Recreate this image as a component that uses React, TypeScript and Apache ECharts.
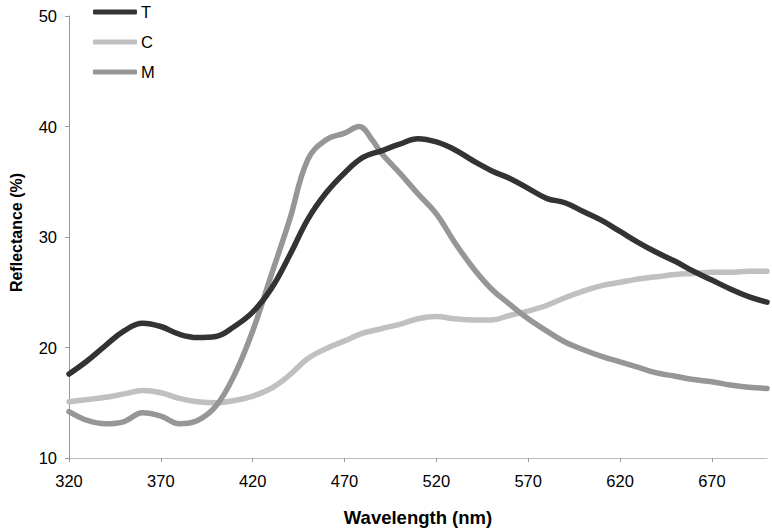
import React, { useEffect, useRef } from "react";
import * as echarts from "echarts";

const wavelengths = [
  320, 330, 340, 350, 360, 370, 380, 390, 400, 410, 420, 430, 440, 450, 460, 470, 480, 490,
  500, 510, 520, 530, 540, 550, 560, 570, 580, 590, 600, 610, 620, 630, 640, 650, 660, 670,
  680, 690, 700,
];

const tValues = [
  17.6, 18.8, 20.2, 21.5, 22.2, 21.9, 21.2, 20.9, 21.0, 21.9, 23.2, 25.3, 28.3, 31.6, 34.0,
  35.8, 37.2, 37.8, 38.4, 38.9, 38.6, 37.9, 36.9, 36.0, 35.3, 34.4, 33.5, 33.1, 32.3, 31.5,
  30.5, 29.5, 28.6, 27.8, 26.9, 26.1, 25.3, 24.6, 24.1,
];

const cValues = [
  15.1, 15.3, 15.5, 15.8, 16.1, 15.9, 15.4, 15.1, 15.0, 15.2, 15.6, 16.3, 17.5, 19.0, 19.9,
  20.6, 21.3, 21.7, 22.1, 22.6, 22.8, 22.6, 22.5, 22.5, 22.9, 23.3, 23.8, 24.5, 25.1, 25.6,
  25.9, 26.2, 26.4, 26.6, 26.7, 26.8, 26.8, 26.9, 26.9,
];

const mWavelengths = [
  320, 330, 340, 350, 360, 370, 380, 390, 400, 410, 420, 430, 440, 450, 460, 470, 478, 485,
  490, 500, 510, 520, 530, 540, 550, 560, 570, 580, 590, 600, 610, 620, 630, 640, 650, 660,
  670, 680, 690, 700,
];

const mValues = [
  14.2, 13.4, 13.1, 13.3, 14.1, 13.8, 13.1, 13.4, 14.7, 17.5, 21.5, 26.5, 31.5, 37.0, 38.8,
  39.4, 40.0, 38.8, 37.6, 35.8, 33.9, 32.1, 29.5, 27.2, 25.3, 23.9, 22.6, 21.5, 20.5, 19.8,
  19.2, 18.7, 18.2, 17.7, 17.4, 17.1, 16.9, 16.6, 16.4, 16.3,
];

const xTicks = [320, 370, 420, 470, 520, 570, 620, 670];

const FONT = "'Liberation Sans', Arial, sans-serif";

export default function App() {
  const ref = useRef<HTMLDivElement>(null);
  useEffect(() => {
    if (!ref.current) return;
    const chart = echarts.init(ref.current, null, { renderer: "svg" });
    const pair = (xs: number[], ys: number[]) => xs.map((x, i) => [x, ys[i]]);
    chart.setOption({
      animation: false,
      textStyle: { fontFamily: FONT },
      grid: { left: 65, right: 5, top: 16, bottom: 73, containLabel: false },
      legend: {
        orient: "vertical",
        left: 93,
        top: 3,
        padding: 0,
        itemWidth: 44,
        itemHeight: 5,
        itemGap: 12,
        icon: "roundRect",
        textStyle: { fontSize: 16.5, color: "#000", fontFamily: FONT, padding: [0, 0, 0, -1], lineHeight: 18 },
        data: ["T", "C", "M"],
      },
      xAxis: {
        type: "value",
        min: 320,
        max: 700,
        interval: 50,
        name: "Wavelength (nm)",
        nameLocation: "middle",
        nameGap: 50,
        nameTextStyle: { fontSize: 18.5, fontWeight: "bold", color: "#000", fontFamily: FONT },
        axisLine: { show: true, lineStyle: { color: "#bdbdbd", width: 1 } },
        axisTick: { show: true, length: 4, lineStyle: { color: "#999" }, customValues: xTicks },
        axisLabel: { fontSize: 16.5, color: "#000", margin: 14, customValues: xTicks },
        splitLine: { show: false },
      },
      yAxis: {
        type: "value",
        min: 10,
        max: 50,
        interval: 10,
        name: "Reflectance (%)",
        nameLocation: "middle",
        nameGap: 45,
        nameTextStyle: { fontSize: 16, fontWeight: "bold", color: "#000", fontFamily: FONT, padding: [0, 0, 0, 9] },
        axisLine: { show: true, lineStyle: { color: "#999", width: 1 } },
        axisTick: { show: true, length: 4, lineStyle: { color: "#999" } },
        axisLabel: { fontSize: 16.5, color: "#000", margin: 12 },
        splitLine: { show: false },
      },
      series: [
        {
          name: "T",
          type: "line",
          data: pair(wavelengths, tValues),
          smooth: 0.4,
          symbol: "none",
          lineStyle: { color: "#333333", width: 5.5, cap: "round" },
          itemStyle: { color: "#333333" },
          z: 3,
        },
        {
          name: "C",
          type: "line",
          data: pair(wavelengths, cValues),
          smooth: 0.4,
          symbol: "none",
          lineStyle: { color: "#c0c0c0", width: 5.5, cap: "round" },
          itemStyle: { color: "#c0c0c0" },
          z: 1,
        },
        {
          name: "M",
          type: "line",
          data: pair(mWavelengths, mValues),
          smooth: 0.4,
          symbol: "none",
          lineStyle: { color: "#969696", width: 5.5, cap: "round" },
          itemStyle: { color: "#969696" },
          z: 2,
        },
      ],
    });
    return () => chart.dispose();
  }, []);
  return (
    <div
      ref={ref}
      style={{ position: "absolute", left: 0, top: 0, width: 772, height: 532 }}
    />
  );
}
